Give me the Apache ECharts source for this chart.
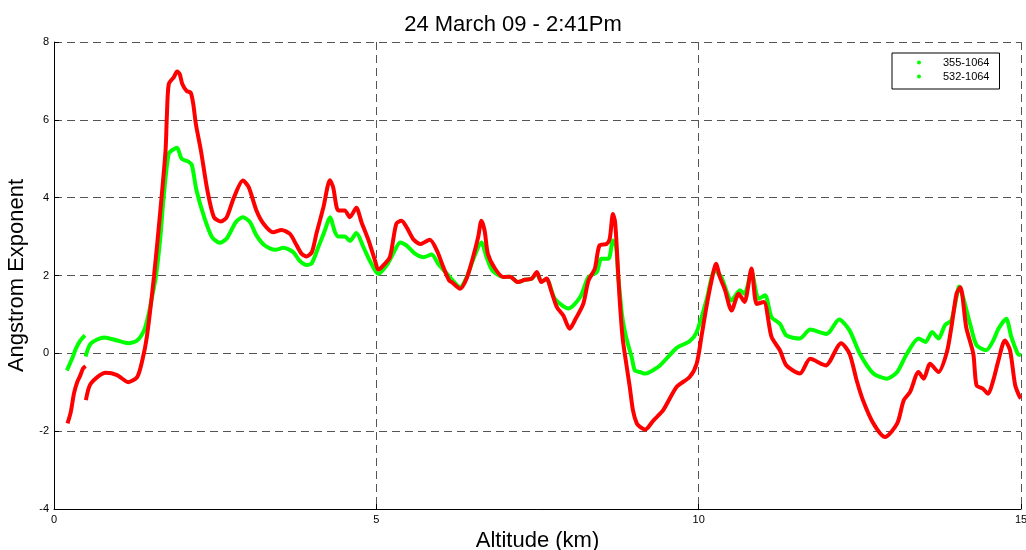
<!DOCTYPE html>
<html>
<head>
<meta charset="utf-8">
<script src="https://cdn.jsdelivr.net/npm/echarts@6/dist/echarts.min.js"></script>
<style>
html,body{margin:0;padding:0;background:#fff;overflow:hidden;}
#chart{width:1026px;height:550px;}
</style>
</head>
<body>
<div id="chart"></div>
<script>
// ---- Data ----
const chartTitle = '24 March 09 - 2:41Pm';
const seriesNames = ['355-1064', '532-1064'];
const xTicks = [0, 5, 10, 15];
const yTicks = [-4, -2, 0, 2, 4, 6, 8];

// 532-1064 (green); null marks a break in the trace
const greenX = [0.20,0.28,0.34,0.41,0.48, 0.485, 0.49,0.57,0.78,0.98,1.15,1.29,1.40,1.47,1.52,1.58,1.65,1.70,1.78,1.86,1.91,1.98,2.09,2.14,2.21,2.33,2.45,2.57,2.68,2.82,2.93,3.04,3.14,3.27,3.43,3.56,3.71,3.81,3.92,4.00,4.10,4.20,4.28,4.36,4.41,4.51,4.59,4.69,4.80,4.90,5.03,5.16,5.26,5.37,5.47,5.60,5.73,5.86,5.96,6.06,6.14,6.30,6.40,6.50,6.63,6.71,6.80,6.97,7.07,7.20,7.30,7.41,7.49,7.56,7.64,7.77,7.98,8.16,8.29,8.42,8.49,8.60,8.67,8.72,8.75,8.78,8.81,8.85,8.90,8.96,9.01,9.09,9.17,9.22,9.40,9.66,9.86,9.97,10.12,10.25,10.35,10.51,10.64,10.71,10.82,10.93,11.03,11.13,11.26,11.36,11.57,11.73,11.98,12.03,12.18,12.34,12.50,12.71,12.92,13.08,13.23,13.41,13.52,13.62,13.72,13.82,13.92,14.00,14.04,14.10,14.21,14.31,14.46,14.57,14.65,14.77,14.85,14.95,15.00];
const greenY = [-0.44,-0.14,0.12,0.33,0.46, null, -0.08,0.25,0.41,0.33,0.26,0.33,0.60,1.02,1.44,1.96,2.99,4.00,5.13,5.25,5.28,5.00,4.92,4.83,4.19,3.50,2.99,2.84,2.95,3.37,3.50,3.37,3.03,2.77,2.66,2.71,2.60,2.38,2.27,2.32,2.73,3.15,3.50,3.11,3.00,3.00,2.89,3.09,2.73,2.38,2.04,2.26,2.56,2.85,2.77,2.56,2.47,2.54,2.30,2.11,1.96,1.70,1.95,2.40,2.85,2.47,2.13,1.96,1.97,1.83,1.89,1.92,2.05,1.85,1.90,1.40,1.15,1.44,1.96,2.09,2.43,2.43,2.90,2.73,2.00,1.50,1.00,0.60,0.25,-0.09,-0.44,-0.48,-0.52,-0.50,-0.31,0.14,0.31,0.55,1.36,2.13,1.96,1.36,1.62,1.53,2.09,1.40,1.49,0.93,0.76,0.46,0.38,0.61,0.50,0.55,0.87,0.59,-0.01,-0.52,-0.65,-0.48,-0.01,0.38,0.29,0.55,0.38,0.72,0.85,1.45,1.72,1.45,0.76,0.21,0.08,0.33,0.63,0.89,0.42,-0.01,-0.05];

// 355-1064 (red)
const redX = [0.21,0.26,0.31,0.36,0.41,0.45,0.49, 0.492, 0.495,0.57,0.80,0.98,1.15,1.29,1.37,1.44,1.55,1.65,1.73,1.75,1.78,1.86,1.91,1.95,1.99,2.06,2.12,2.16,2.20,2.28,2.38,2.48,2.59,2.68,2.79,2.93,3.02,3.14,3.25,3.40,3.53,3.66,3.74,3.84,3.92,4.00,4.07,4.18,4.28,4.33,4.41,4.51,4.59,4.69,4.77,4.88,4.98,5.03,5.11,5.21,5.31,5.39,5.47,5.57,5.68,5.83,5.94,6.04,6.13,6.17,6.30,6.40,6.50,6.58,6.63,6.68,6.73,6.84,6.97,7.07,7.20,7.30,7.41,7.49,7.56,7.64,7.72,7.80,7.90,8.00,8.08,8.21,8.29,8.39,8.46,8.57,8.62,8.67,8.70,8.72,8.77,8.82,8.88,8.93,8.98,9.04,9.09,9.17,9.30,9.45,9.66,9.86,9.97,10.05,10.12,10.20,10.27,10.33,10.41,10.51,10.62,10.71,10.82,10.90,11.01,11.13,11.26,11.36,11.57,11.73,11.98,12.03,12.21,12.34,12.45,12.55,12.71,12.89,13.08,13.18,13.28,13.41,13.49,13.59,13.72,13.85,13.92,14.00,14.06,14.15,14.26,14.31,14.41,14.49,14.57,14.65,14.75,14.83,14.91,14.98,15.00];
const redY = [-1.80,-1.51,-1.03,-0.74,-0.56,-0.39,-0.33, null, -1.20,-0.78,-0.50,-0.56,-0.74,-0.61,-0.18,0.42,1.96,3.67,5.20,6.06,6.92,7.10,7.24,7.18,6.92,6.74,6.70,6.41,5.90,5.20,4.18,3.50,3.39,3.50,4.00,4.44,4.27,3.67,3.33,3.11,3.17,3.07,2.85,2.56,2.49,2.60,3.07,3.76,4.45,4.27,3.67,3.67,3.50,3.74,3.37,2.90,2.38,2.15,2.26,2.47,3.33,3.41,3.24,2.94,2.81,2.92,2.64,2.21,1.87,1.83,1.66,1.92,2.47,2.99,3.41,3.15,2.56,2.18,1.96,1.97,1.83,1.89,1.92,2.09,1.83,1.92,1.57,1.19,0.97,0.63,0.85,1.27,1.87,2.18,2.77,2.81,2.94,3.58,3.41,3.00,1.50,0.40,-0.30,-0.85,-1.46,-1.80,-1.89,-1.96,-1.72,-1.46,-0.86,-0.61,-0.26,0.50,1.19,1.87,2.30,1.96,1.62,1.10,1.53,1.32,2.18,1.27,1.32,0.42,0.08,-0.31,-0.52,-0.14,-0.31,-0.22,0.26,-0.01,-0.69,-1.21,-1.80,-2.15,-1.80,-1.21,-0.99,-0.48,-0.65,-0.27,-0.48,0.03,0.67,1.53,1.70,0.67,-0.01,-0.82,-0.91,-1.04,-0.69,-0.18,0.33,0.08,-0.82,-1.12,-1.15];

function pairs(xs, ys) {
  return xs.map((x, i) => [x, ys[i] === null ? '-' : ys[i]]);
}

const FONT = "'Liberation Sans', Arial, Helvetica, sans-serif";
const chart = echarts.init(document.getElementById('chart'), null, {renderer: 'canvas'});
const gridLine = {show: true, lineStyle: {color: '#555', type: [8, 5], width: 1}};

chart.setOption({
  animation: false,
  backgroundColor: '#fff',
  title: {
    text: chartTitle, left: 'center', top: 9,
    textStyle: {fontFamily: FONT, fontSize: 22, fontWeight: 'normal', color: '#000'}
  },
  legend: {
    left: 892, top: 53, orient: 'vertical',
    borderColor: '#000', borderWidth: 1, backgroundColor: '#fff',
    padding: [4, 10, 7, 25], itemGap: 3,
    itemWidth: 38, itemHeight: 4,
    textStyle: {fontFamily: FONT, fontSize: 11, color: '#000', lineHeight: 11},
    data: seriesNames.map(n => ({name: n, icon: 'circle', itemStyle: {color: '#00ff00'}}))
  },
  grid: {left: 54, right: 5, top: 42, bottom: 41, containLabel: false, outerBoundsMode: 'none'},
  xAxis: {
    type: 'value', min: xTicks[0], max: xTicks[xTicks.length - 1], interval: 5,
    name: 'Altitude (km)', nameLocation: 'middle', nameGap: 20,
    nameTextStyle: {fontFamily: FONT, fontSize: 22, color: '#000'},
    axisLine: {show: true, onZero: false, lineStyle: {color: '#000', width: 1}},
    axisTick: {show: true, inside: true, length: 5, lineStyle: {color: '#000'}},
    axisLabel: {fontFamily: FONT, fontSize: 11, color: '#000', margin: 5},
    splitLine: gridLine
  },
  yAxis: {
    type: 'value', min: yTicks[0], max: yTicks[yTicks.length - 1], interval: 2,
    name: 'Angstrom Exponent', nameLocation: 'middle', nameGap: 22, nameRotate: 90,
    nameTextStyle: {fontFamily: FONT, fontSize: 22, color: '#000'},
    axisLine: {show: true, onZero: false, lineStyle: {color: '#000', width: 1}},
    axisTick: {show: true, inside: true, length: 5, lineStyle: {color: '#000'}},
    axisLabel: {fontFamily: FONT, fontSize: 11, color: '#000', margin: 5},
    splitLine: gridLine
  },
  series: [
    {
      name: seriesNames[0], type: 'line', z: 3,
      data: pairs(redX, redY), showSymbol: false, smooth: 0.25, connectNulls: false,
      itemStyle: {color: '#ff0000'},
      lineStyle: {color: '#ff0000', width: 4}
    },
    {
      name: seriesNames[1], type: 'line', z: 2,
      data: pairs(greenX, greenY), showSymbol: false, smooth: 0.25, connectNulls: false,
      itemStyle: {color: '#00ff00'},
      lineStyle: {color: '#00ff00', width: 4}
    }
  ]
});
</script>
</body>
</html>
